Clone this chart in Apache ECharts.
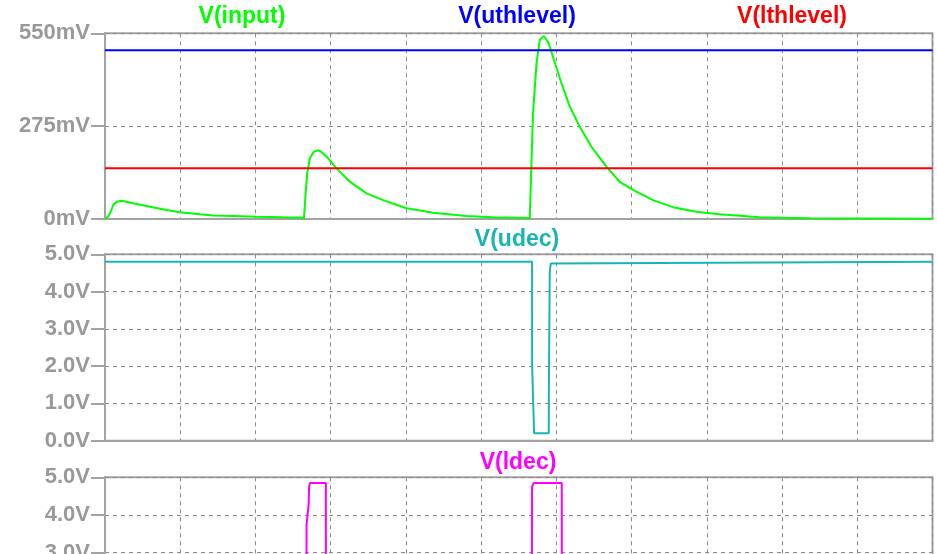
<!DOCTYPE html>
<html>
<head>
<meta charset="utf-8">
<script src="https://cdn.jsdelivr.net/npm/echarts@6/dist/echarts.min.js"></script>
<style>
  html, body { margin: 0; padding: 0; background: #fff; overflow: hidden; }
  /* The lowest panel runs past the bottom of the window, so the canvas is taller than the view. */
  #chart { width: 937px; height: 700px; }
</style>
</head>
<body>
<div id="chart"></div>
<script>
// Time base in microseconds (100 µs per division, 11 divisions)
const timeMin = 0;
const timeMax = 1100;
const timeStep = 100;

// V(input) in mV: [time µs, mV]
const inputTrace = [
  [0, 0], [2.3, 0], [4.5, 8], [6.6, 17], [9, 30], [11.0, 41.5], [14, 48], [17, 52], [22.2, 54], [37.6, 46.5],
  [59.8, 36], [82.0, 26.7], [99.6, 19.8], [126.2, 13.9], [143.9, 10.4],
  [170.5, 8.9], [201.6, 6.8], [236.9, 5], [259.1, 4.4], [264.4, 2],
  [266.5, 70], [268.8, 135], [272.4, 180], [277, 198], [283.4, 204], [288, 198], [294.6, 184.5],
  [307.8, 150], [325.5, 110.5], [347.7, 76], [369.7, 56], [400.8, 31.7],
  [436.2, 18.7], [480.6, 8.9], [515.9, 5], [564.7, 3],
  [566.9, 165], [569.0, 313], [573.6, 461], [577.9, 530], [583.3, 542],
  [589.0, 525], [595.6, 480], [606.8, 402], [617.8, 333], [631.1, 273],
  [646.6, 214], [666.6, 155], [684.2, 110], [701.9, 86], [728.5, 56],
  [755.0, 35], [786.1, 21.6], [817.1, 13.9], [839.3, 10.4], [870.2, 5],
  [896.8, 3.8], [936.7, 2], [1100, 1]
];

// Threshold levels in mV
const upperLevel = 500;
const lowerLevel = 150;

// V(udec) in V
const udecTrace = [
  [0, 4.8], [567.7, 4.8], [567.8, 2.0], [570.3, 1.95], [570.4, 0.2],
  [589.9, 0.2], [590.0, 1.25], [591.2, 4.5], [592.5, 4.75], [595, 4.8], [1100, 4.8]
];

// V(ldec) in V
const ldecTrace = [
  [0, 0.2], [267.8, 0.2], [267.9, 3.73], [270.8, 4.3], [271.3, 4.75], [272.4, 4.85],
  [293.6, 4.85], [293.7, 0.2],
  [567.6, 0.2], [567.7, 4.75], [570, 4.85], [607.2, 4.85], [607.3, 0.2], [1100, 0.2]
];

// Tick settings per panel
const inputTicks = { min: 0, max: 550, interval: 275 };
const voltTicks = { min: 0, max: 5, interval: 1 };

const frameColor = '#a3a3a3';
const gridColor = '#8a8a8a';
const labelColor = '#999999';
const fontFamily = '"Liberation Sans", Arial, sans-serif';

const colors = {
  input: '#00ff00',
  uth: '#0000ff',
  lth: '#ff0000',
  udec: '#18b5b5',
  ldec: '#ff00ff'
};

const grids = [
  { left: 105, top: 33.3, width: 827.5, height: 185.7 },
  { left: 105, top: 254.3, width: 827.5, height: 186.4 },
  { left: 105, top: 477.3, width: 827.5, height: 188.5 }
].map(g => Object.assign({}, g, {
  show: true, borderColor: frameColor, borderWidth: 2, backgroundColor: 'transparent'
}));

function xAxis(idx) {
  return {
    type: 'value', gridIndex: idx, min: timeMin, max: timeMax, interval: timeStep,
    axisLabel: { show: false }, axisTick: { show: false },
    axisLine: { show: true, lineStyle: { color: frameColor, width: 2 } },
    splitLine: { show: true, lineStyle: { color: gridColor, width: 1, type: [4, 4] } }
  };
}

function yAxis(idx, ticks, fmt) {
  return {
    type: 'value', gridIndex: idx, min: ticks.min, max: ticks.max, interval: ticks.interval,
    axisLine: { show: true, lineStyle: { color: frameColor, width: 2 } },
    axisTick: { show: true, length: 14, lineStyle: { color: frameColor, width: 2 } },
    axisLabel: {
      margin: 15, color: labelColor, fontSize: 22, fontWeight: 'bold',
      fontFamily: fontFamily, formatter: fmt
    },
    splitLine: { show: true, lineStyle: { color: gridColor, width: 1, type: [4, 4] } }
  };
}

function lineSeries(name, data, color, xi, yi) {
  return {
    name: name, type: 'line', xAxisIndex: xi, yAxisIndex: yi, data: data,
    showSymbol: false, symbol: 'none', smooth: false,
    lineStyle: { color: color, width: 2 }, itemStyle: { color: color },
    clip: true, animation: false
  };
}

function traceTitle(text, x, y, color) {
  return {
    type: 'text', x: x, y: y,
    style: {
      text: text, fill: color, font: 'bold 23px ' + fontFamily,
      textAlign: 'center', textVerticalAlign: 'middle'
    }
  };
}

const chart = echarts.init(document.getElementById('chart'), null, { renderer: 'canvas' });
chart.setOption({
  animation: false,
  backgroundColor: '#ffffff',
  grid: grids,
  xAxis: [xAxis(0), xAxis(1), xAxis(2)],
  yAxis: [
    yAxis(0, inputTicks, v => v + 'mV'),
    yAxis(1, voltTicks, v => v.toFixed(1) + 'V'),
    yAxis(2, voltTicks, v => v.toFixed(1) + 'V')
  ],
  series: [
    lineSeries('V(input)', inputTrace, colors.input, 0, 0),
    lineSeries('V(uthlevel)', [[timeMin, upperLevel], [timeMax, upperLevel]], colors.uth, 0, 0),
    lineSeries('V(lthlevel)', [[timeMin, lowerLevel], [timeMax, lowerLevel]], colors.lth, 0, 0),
    lineSeries('V(udec)', udecTrace, colors.udec, 1, 1),
    lineSeries('V(ldec)', ldecTrace, colors.ldec, 2, 2)
  ],
  graphic: [
    traceTitle('V(input)', 242, 17, colors.input),
    traceTitle('V(uthlevel)', 517, 17, colors.uth),
    traceTitle('V(lthlevel)', 792, 17, colors.lth),
    traceTitle('V(udec)', 517, 240, colors.udec),
    traceTitle('V(ldec)', 518, 463, colors.ldec)
  ]
});
</script>
</body>
</html>
